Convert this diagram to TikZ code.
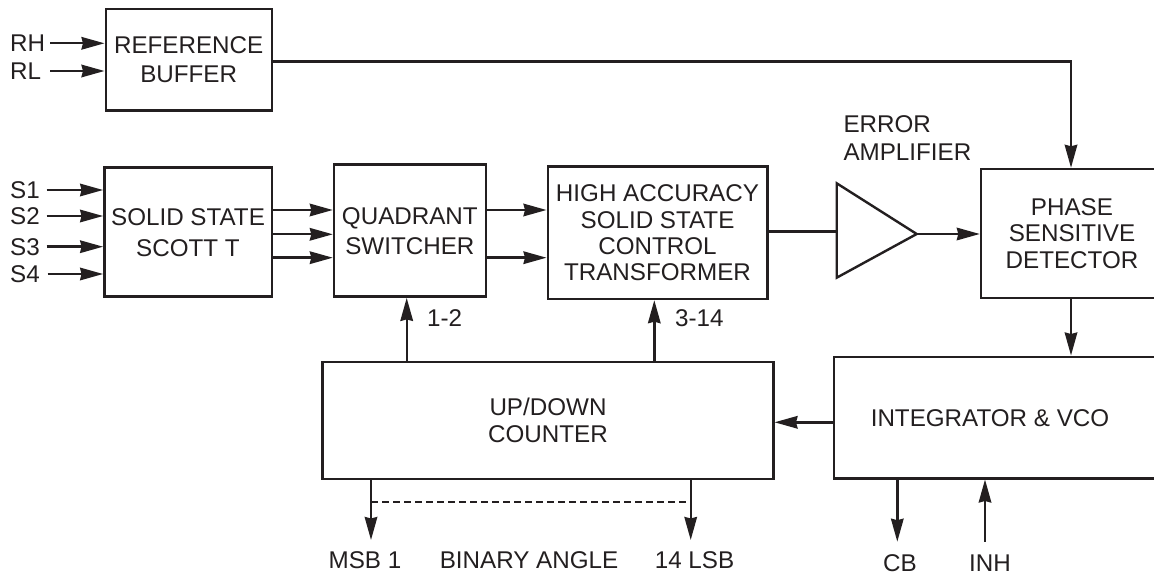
\documentclass[tikz,border=0pt]{standalone}
\usepackage{fontspec}
\setmainfont{Liberation Sans}
\usetikzlibrary{arrows.meta,calc}
\definecolor{ink}{RGB}{35,31,32}
\begin{document}
\begin{tikzpicture}[x=1pt,y=-1pt,
  every node/.style={text=ink},
  txt/.style={font=\fontsize{24.2}{27}\selectfont},
  blk/.style={draw=ink, line width=2.4pt, rectangle, inner sep=0pt, align=center},
  wire/.style={draw=ink, line width=2.4pt},
  arr/.style={wire, -{Stealth[length=23pt 0,width=12.5pt 0,inset=1.5pt 0]}},
  lbl/.style={txt, inner sep=0pt}]
\useasboundingbox (0,0) rectangle (1154,577);
\fill[white] (0,0) rectangle (1154,577);
\clip (0,0) rectangle (1154,577);

% blocks
\node[blk, font=\fontsize{24.2}{29}\selectfont, minimum width=166pt, minimum height=101.4pt] (ref) at (188.7,60) {REFERENCE\\BUFFER};
\node[blk, font=\fontsize{24.2}{31}\selectfont, minimum width=167.4pt, minimum height=129pt] (scott) at (188,232.2) {SOLID STATE\\SCOTT T};
\node[blk, font=\fontsize{24.2}{30}\selectfont, minimum width=151.7pt, minimum height=132pt] (quad) at (409.85,230.7) {QUADRANT\\SWITCHER};
\node[blk, font=\fontsize{24.2}{26.2}\selectfont, minimum width=219.6pt, minimum height=132.3pt] (ha) at (657.5,232.85) {HIGH ACCURACY\\SOLID STATE\\CONTROL\\TRANSFORMER};
\node[blk, font=\fontsize{24.2}{26.5}\selectfont, minimum width=182pt, minimum height=129.3pt] (phase) at (1072,233.65) {PHASE\\SENSITIVE\\DETECTOR};
\node[blk, font=\fontsize{24.2}{26.7}\selectfont, minimum width=450.7pt, minimum height=117.3pt] (counter) at (548,420.35) {UP/DOWN\\COUNTER};
\node[blk, minimum width=346pt, minimum height=121.6pt] (integ) at (1007,417.5) {};
\node[lbl] (integtext) at (990,418) {INTEGRATOR \& VCO};

% error amplifier
\coordinate (ampin) at (836.7,231.7);
\coordinate (ampout) at (916.7,234);
\draw[wire, line join=miter] (836.7,183.3) -- (ampout) -- (836.7,277.7) -- cycle;
\node[lbl, align=left, anchor=west, font=\fontsize{24.2}{28.3}\selectfont] (errlbl) at (843.3,138) {ERROR\\AMPLIFIER};

% input labels
\node[lbl, anchor=west] (RH) at (10,43.3) {RH};
\node[lbl, anchor=west] (RL) at (10,71) {RL};
\node[lbl, anchor=west] (S1) at (10,190) {S1};
\node[lbl, anchor=west] (S2) at (10,216) {S2};
\node[lbl, anchor=west] (S3) at (10,246.7) {S3};
\node[lbl, anchor=west] (S4) at (10,274) {S4};

\draw[arr] (50,43.3) -- (ref.west |- RH);
\draw[arr] (50,71) -- (ref.west |- RL);
\draw[arr] (46.7,190) -- (scott.west |- S1);
\draw[arr] (46.7,216) -- (scott.west |- S2);
\draw[arr] (46.7,246.7) -- (scott.west |- S3);
\draw[arr] (47.5,274) -- (scott.west |- S4);

% scott -> quadrant
\coordinate (q1) at (272,210);
\coordinate (q2) at (272,234.3);
\coordinate (q3) at (272,257.7);
\draw[arr] (q1) -- (quad.west |- q1);
\draw[arr] (q2) -- (quad.west |- q2);
\draw[arr] (q3) -- (quad.west |- q3);

% quadrant -> HA
\draw[arr] (quad.east |- q1) -- (ha.west |- q1);
\draw[arr] (quad.east |- q3) -- (ha.west |- q3);

% HA -> amp -> phase
\draw[wire] (ha.east |- ampin) -- (ampin);
\draw[arr] (ampout) -- (phase.west |- ampout);

% reference -> phase
\coordinate (refout) at (271.7,61.7);
\draw[arr] (refout) -| ([xshift=-1pt]phase.north);

% phase -> integrator
\draw[arr] ([xshift=-1pt]phase.south) -- ([xshift=-1pt]phase.south |- integ.north);

% integrator -> counter
\coordinate (ic) at (834,422.3);
\draw[arr] (ic) -- (counter.east |- ic);

% counter -> quadrant / HA
\coordinate (c12) at (406.7,361.7);
\coordinate (c314) at (654.3,361.7);
\draw[arr] (c12) -- (c12 |- quad.south);
\draw[arr] (c314) -- (c314 |- ha.south);
\node[lbl, anchor=west] (l12) at (427,318) {1-2};
\node[lbl, anchor=west] (l314) at (675,318) {3-14};

% outputs of counter
\coordinate (msb) at (371,540);
\coordinate (lsb) at (690.7,540);
\draw[arr] (msb |- counter.south) -- (msb);
\draw[arr] (lsb |- counter.south) -- (lsb);
\draw[wire, dash pattern=on 7pt off 4pt] (371,501.7) -- (690.7,501.7);
\node[lbl] (msblbl) at (365,560) {MSB 1};
\node[lbl] (binlbl) at (529,560) {BINARY ANGLE};
\node[lbl] (lsblbl) at (694.5,560) {14 LSB};

% CB / INH
\coordinate (cb) at (897.3,541.7);
\coordinate (inh) at (985,541.7);
\draw[arr] (cb |- integ.south) -- (cb);
\draw[arr] (inh) -- (inh |- integ.south);
\node[lbl] (cblbl) at (900,563) {CB};
\node[lbl] (inhlbl) at (990,563) {INH};
\end{tikzpicture}
\end{document}
